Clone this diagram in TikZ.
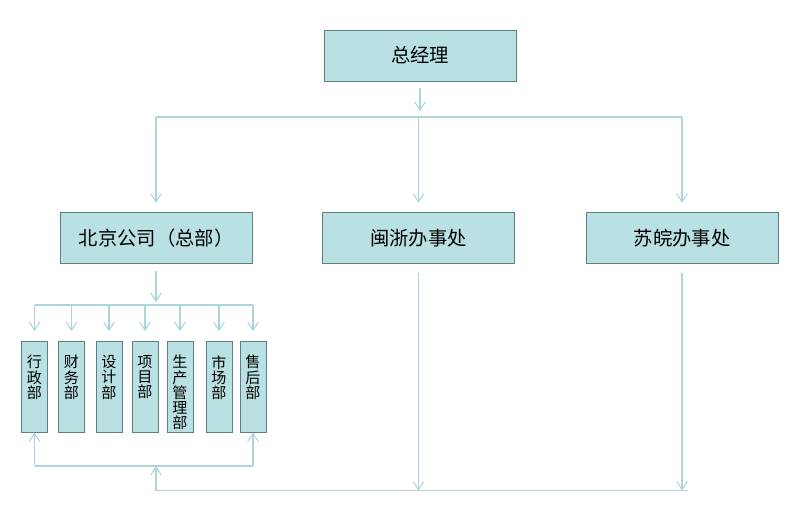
\documentclass[tikz,border=0pt]{standalone}
\usepackage{fontspec}
\setmainfont{Noto Sans CJK SC}
\usetikzlibrary{arrows.meta}

\definecolor{boxfill}{RGB}{185,224,227}
\definecolor{boxline}{RGB}{95,126,128}
\definecolor{linkblue}{RGB}{172,213,219}

\tikzset{
	topbox/.style={draw=boxline, fill=boxfill, minimum width=144pt, minimum height=38.5pt,
		inner sep=0pt, font=\fontsize{14.5}{17}\selectfont},
	deptbox/.style={draw=boxline, fill=boxfill, inner sep=0pt, anchor=north},
	link/.style={linkblue, line width=0.8pt},
	arrow/.style={link, -{Straight Barb[length=6pt, width=8pt]}}
}

% vertical department label, top aligned in its box
\newcommand{\vlabel}[1]{\parbox[c][68.25pt][t]{19.5pt}{\centering\fontsize{11.3}{11.4}\selectfont\vspace*{10.5pt}#1}}

\begin{document}
\begin{tikzpicture}[x=0.75pt, y=-0.75pt]
		\useasboundingbox (0, 0) rectangle (812, 511);

		\node [topbox] (gm) at (420, 55.5) {总经理};
		\node [topbox] (bj) at (156, 238) {北京公司（总部）};
		\node [topbox] (mz) at (418.5, 238) {闽浙办事处};
		\node [topbox] (sw) at (682, 238) {苏皖办事处};

		\coordinate (gmtip) at (420, 111);
		\coordinate (topbus) at (420, 117);
		\draw [arrow, shorten <=5pt] (gm) -- (gmtip);
		\draw [link] (bj.north |- topbus) -- (sw.north |- topbus);
		\foreach \n in {bj, mz, sw} {
			\draw [arrow, shorten >=7pt] (\n.north |- topbus) -- (\n.north);
		}

		\foreach \i/\x/\lbl in {1/34.5/{行\\政\\部}, 2/71.5/{财\\务\\部}, 3/109/{设\\计\\部},
				4/145/{项\\目\\部}, 5/180/{生\\产\\管\\理\\部}, 6/219/{市\\场\\部}, 7/253/{售\\后\\部}} {
			\node [deptbox] (d\i) at (\x, 341) {\vlabel{\lbl}};
		}

		\coordinate (bjtip) at (156, 302);
		\coordinate (deptbus) at (156, 305);
		\draw [arrow, shorten <=5pt] (bj) -- (bjtip);
		\draw [link] (d1.north |- deptbus) -- (d7.north |- deptbus);
		\foreach \i in {1, ..., 7} {
			\draw [arrow, shorten >=7.5pt] (d\i.north |- deptbus) -- (d\i.north);
		}

		% feedback from the offices back to the departments
		\coordinate (lowbus) at (156, 466);
		\coordinate (base) at (156, 490.5);
		\coordinate (baseend) at (688, 490.5);
		\draw [link] (d1.south |- lowbus) -- (d7.south |- lowbus);
		\foreach \n in {d1, d7} {
			\draw [arrow] (\n.south |- lowbus) -- (\n.south);
		}
		\draw [link] (base) -- (baseend);
		\draw [arrow] (base) -- (lowbus);
		\foreach \n in {mz, sw} {
			\draw [arrow, shorten <=7pt] (\n.south) -- (\n.south |- base);
		}
	\end{tikzpicture}
\end{document}
